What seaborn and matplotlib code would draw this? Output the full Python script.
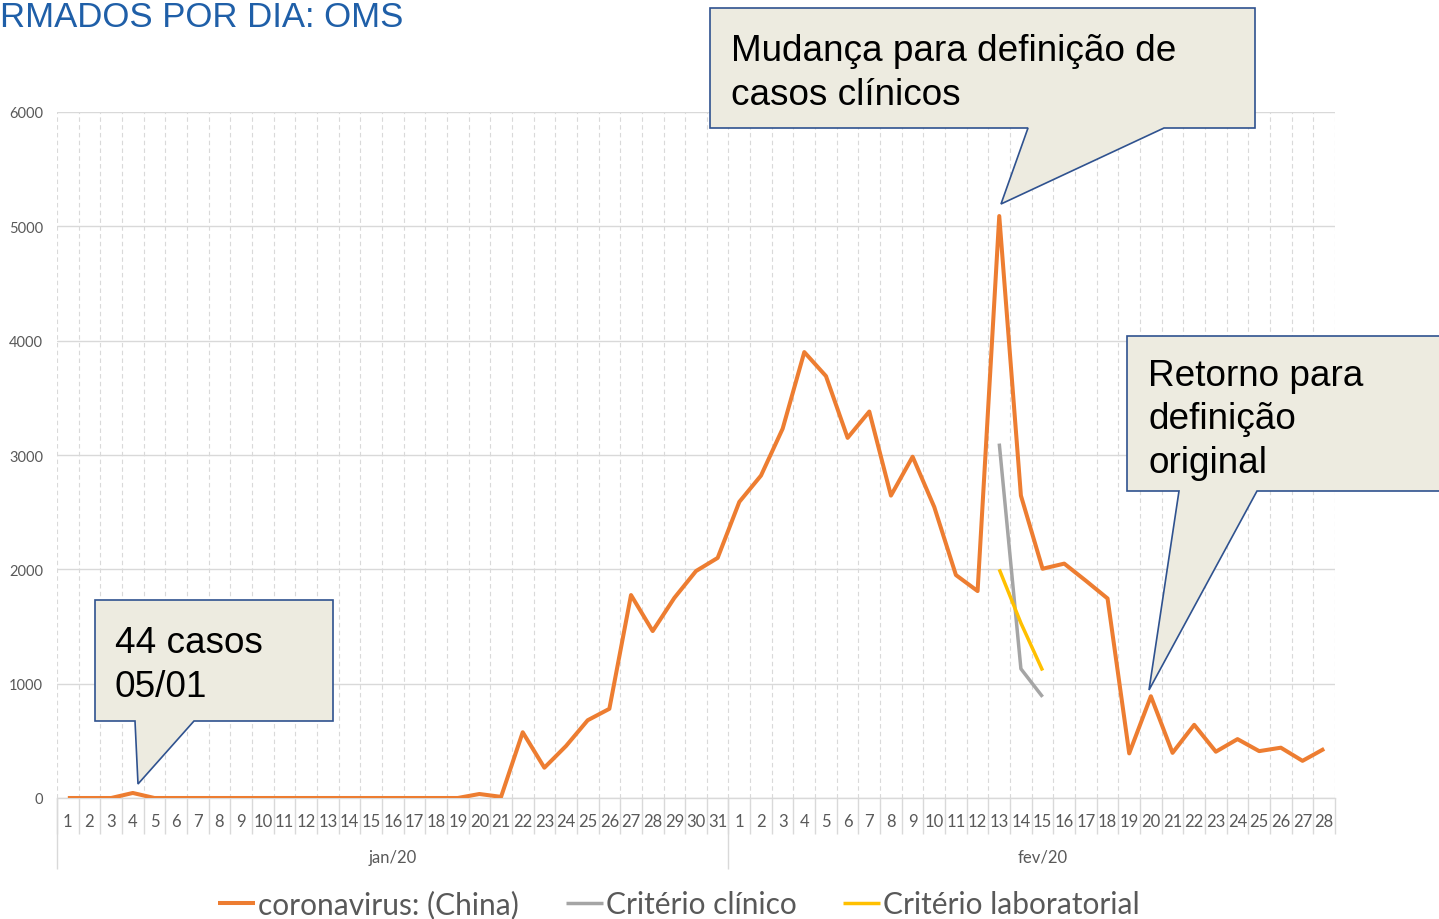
import numpy as np
import pandas as pd
import matplotlib
matplotlib.use("Agg")
import matplotlib.pyplot as plt
import matplotlib.transforms as mtransforms
from matplotlib.patches import Polygon
import seaborn as sns

# ---------------- data ----------------
jan_days = list(range(1, 32))
feb_days = list(range(1, 29))
jan_cases = [0, 0, 0, 44, 0, 0, 0, 0, 0, 0, 0, 0, 0, 0, 0, 0, 0, 0, 0, 35,
             10, 575, 265, 455, 680, 780, 1775, 1460, 1750, 1985, 2100]
feb_cases = [2590, 2820, 3230, 3900, 3690, 3150, 3380, 2645, 2985, 2545,
             1950, 1810, 5090, 2645, 2005, 2050, 1900, 1745, 390, 890,
             395, 640, 405, 515, 410, 440, 325, 430]
clinico_days = [13, 14, 15]          # fev
clinico_cases = [3100, 1130, 885]
lab_days = [13, 14, 15]              # fev
lab_cases = [2000, 1530, 1115]
series_names = ["coronavirus: (China)", "Critério clínico", "Critério laboratorial"]
series_colors = ["#ED7D31", "#A5A5A5", "#FFC000"]
month_labels = ["jan/20", "fev/20"]
month_label_pos = [15, 45]
y_ticks = [0, 1000, 2000, 3000, 4000, 5000, 6000]
title_text = "RMADOS POR DIA: OMS"
callout_texts = ["44 casos\n05/01",
                 "Mudança para definição de\ncasos clínicos",
                 "Retorno para\ndefinição\noriginal"]

# ---------------- style ----------------
sns.set_theme(style="white")
plt.rcParams["font.family"] = ["Lato", "DejaVu Sans"]

W, H = 1439, 920
fig = plt.figure(figsize=(W / 100, H / 100), dpi=100)
ax = fig.add_axes([57 / W, 1 - 799 / H, (1335 - 57) / W, (799 - 113) / H])

tick_labels = [str(d) for d in jan_days] + [str(d) for d in feb_days]
n = len(tick_labels)
idx = np.arange(n)
off = len(jan_days)

df_china = pd.DataFrame({"idx": idx, "casos": jan_cases + feb_cases})
df_clin = pd.DataFrame({"idx": [off + d - 1 for d in clinico_days], "casos": clinico_cases})
df_lab = pd.DataFrame({"idx": [off + d - 1 for d in lab_days], "casos": lab_cases})

lw = [2.9, 2.5, 2.5]
for df, name, col, w in zip([df_china, df_clin, df_lab], series_names, series_colors, lw):
    sns.lineplot(data=df, x="idx", y="casos", ax=ax, color=col, linewidth=w,
                 label=name, solid_joinstyle="round", solid_capstyle="butt", zorder=3)

ax.set_xlim(-0.5, n - 0.5)
ax.set_ylim(0, 6000)
ax.set_yticks(y_ticks)
ax.set_yticklabels([str(v) for v in y_ticks])
ax.set_xticks(idx)
ax.set_xticklabels(tick_labels)
ax.set_xticks(np.arange(n + 1) - 0.5, minor=True)
ax.set_xlabel("")
ax.set_ylabel("")

ax.tick_params(axis="x", which="both", length=0, pad=11, labelsize=12, colors="#595959")
ax.tick_params(axis="y", which="both", length=0, pad=10, labelsize=10.5, colors="#595959")

ax.grid(False)
ax.grid(which="major", axis="y", color="#D9D9D9", linewidth=1.0, linestyle="-")
ax.grid(which="minor", axis="x", color="#D9D9D9", linewidth=0.8, linestyle=(0, (4, 3)))
ax.set_axisbelow(True)
for s in ["left", "right", "top"]:
    ax.spines[s].set_visible(False)
ax.spines["bottom"].set_color("#D9D9D9")
ax.spines["bottom"].set_linewidth(1.0)

# category separators below the axis
xt = ax.get_xaxis_transform()
bounds = np.arange(n + 1) - 0.5
ax.vlines(bounds, 0, -36 / 686, transform=xt, clip_on=False, color="#D9D9D9", lw=1.0)
ax.vlines([-0.5, off - 0.5], 0, -71 / 686, transform=xt, clip_on=False, color="#D9D9D9", lw=1.0)
for lab, pos in zip(month_labels, month_label_pos):
    ax.text(pos, -59 / 686, lab, transform=xt, ha="center", va="center",
            fontsize=12, color="#595959")

ax.get_legend().remove()
handles, labels = ax.get_legend_handles_labels()
fig.legend(handles, labels, loc="center", bbox_to_anchor=(679 / W, 1 - 905 / H),
           ncol=3, frameon=False, fontsize=21.5, handlelength=1.25, handletextpad=0.1,
           columnspacing=1.55, labelcolor="#595959")

# ---------------- callouts (pixel coordinates, top-down) ----------------
trans = mtransforms.Affine2D().scale(1 / W, -1 / H).translate(0, 1) + fig.transFigure


def callout(x0, y0, x1, y1, pl, pr, tip, text, tx, ty_last):
    verts = [(x0, y0), (x1, y0), (x1, y1), (pr, y1), tip, (pl, y1), (x0, y1)]
    fig.add_artist(Polygon(verts, closed=True, transform=trans, facecolor="#EDEBE0",
                           edgecolor="#2F528F", linewidth=1.2, zorder=5, clip_on=False))
    fig.text(tx, ty_last, text, transform=trans, ha="left", va="baseline",
             fontsize=26.6, family=["Liberation Sans", "DejaVu Sans"], color="black",
             linespacing=1.32, zorder=6)


callout(95, 601, 333, 722, 135, 194, (138, 785), callout_texts[0], 115, 697)
callout(710, 9, 1255, 129, 1028, 1164, (1001, 205), callout_texts[1], 731, 105)
callout(1127, 337, 1460, 492, 1179, 1257, (1149, 691), callout_texts[2], 1148, 473)

# title (kept fully inside the figure, at the very top edge)
fig.text(0, 1 - 1 / H, title_text, ha="left", va="top", fontsize=25,
         family=["Liberation Sans", "DejaVu Sans"], color="#1F5FA8")

fig.savefig("out.png", dpi=100)
